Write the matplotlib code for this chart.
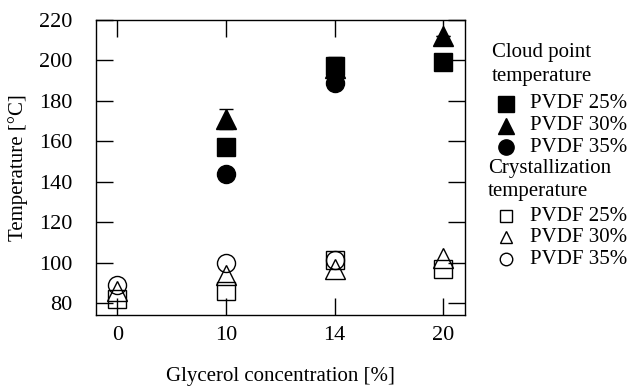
import matplotlib
matplotlib.use("Agg")
import matplotlib.pyplot as plt
from matplotlib.lines import Line2D

plt.rcParams["font.family"] = ["Liberation Serif", "DejaVu Serif"]
plt.rcParams["font.size"] = 15

# Glycerol concentration levels (plotted at evenly spaced positions)
glycerol = ["0", "10", "14", "20"]
pos = [0, 1, 2, 3]

# Cloud point temperature (filled markers), x = 10, 14, 20 %
cloud_pos = [1, 2, 3]
cloud_25 = [157, 197, 199]
cloud_30 = [171, 196, 212]
cloud_30_err = [5, 5.5, 0]
cloud_35 = [144, 189]
cloud_35_pos = [1, 2]

# Crystallization temperature (open markers)
cryst_25 = [82, 86, 101, 97]
cryst_30 = [86, 94, 97, 102]
cryst_35 = [89, 100, 101]
cryst_35_pos = [0, 1, 2]

fig = plt.figure(figsize=(6.3, 3.89), dpi=100)
ax = fig.add_axes([0.152, 0.190, 0.586, 0.759])

ms = 13
# open symbols first
ax.plot(cryst_35_pos, cryst_35, "o", ms=ms, mfc="none", mec="black", mew=1.0)
ax.plot(pos, cryst_30, "^", ms=ms + 1, mfc="none", mec="black", mew=1.0)
ax.plot(pos, cryst_25, "s", ms=ms, mfc="none", mec="black", mew=1.0)

# filled symbols
ax.errorbar(cloud_pos, cloud_30, yerr=cloud_30_err, fmt="^", ms=ms + 1,
            color="black", ecolor="black", elinewidth=1, capsize=5, capthick=1)
ax.plot(cloud_35_pos, cloud_35, "o", ms=ms, color="black")
ax.plot(cloud_pos, cloud_25, "s", ms=ms, color="black")

ax.set_xlim(-0.2, 3.2)
ax.set_ylim(74, 220)
ax.set_xticks(pos)
ax.set_xticklabels(glycerol)
ax.set_yticks(range(80, 221, 20))

ax.tick_params(direction="in", length=12, width=1.0, top=True, right=True,
               color="black", labelsize=16)
ax.tick_params(axis="y", pad=17)
ax.tick_params(axis="x", pad=8)
for s in ax.spines.values():
    s.set_linewidth(1.0)

ax.set_ylabel("Temperature [\u00b0C]", labelpad=8)
ax.set_xlabel("Glycerol concentration [%]", labelpad=16)


# legend drawn by hand at the right of the axes
def px(x, y):
    return x / 630, 1 - y / 389


fig.text(*px(492, 52), "Cloud point", va="center", ha="left")
fig.text(*px(492, 77), "temperature", va="center", ha="left")
fig.text(*px(488, 168), "Crystallization", va="center", ha="left")
fig.text(*px(488, 191), "temperature", va="center", ha="left")

legend_rows = [
    ("s", True, 11, 104, "PVDF 25%"),
    ("^", True, 11, 126, "PVDF 30%"),
    ("o", True, 11, 147, "PVDF 35%"),
    ("s", False, 9, 216, "PVDF 25%"),
    ("^", False, 9, 237, "PVDF 30%"),
    ("o", False, 9, 259, "PVDF 35%"),
]
for mk, filled, size, y, label in legend_rows:
    x0, y0 = px(506, y)
    fig.add_artist(Line2D([x0], [y0], marker=mk, ms=size,
                          mfc="black" if filled else "none", mec="black",
                          mew=1.0, transform=fig.transFigure))
    fig.text(*px(530, y), label, va="center", ha="left")

fig.savefig("out.png", dpi=100)
